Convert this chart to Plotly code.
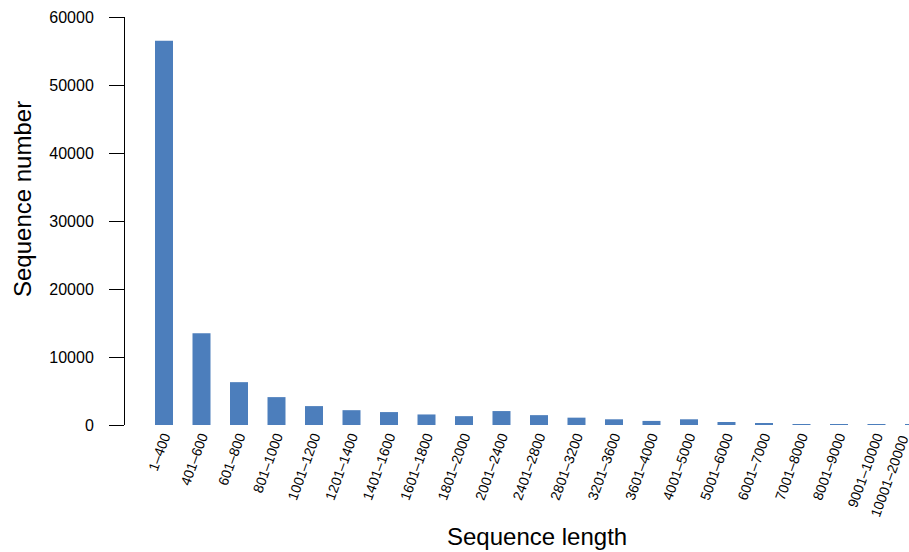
import plotly.graph_objects as go

# Sequence length bins and the number of sequences in each
length_bins = [
    "1–400", "401–600", "601–800", "801–1000", "1001–1200", "1201–1400",
    "1401–1600", "1601–1800", "1801–2000", "2001–2400", "2401–2800",
    "2801–3200", "3201–3600", "3601–4000", "4001–5000", "5001–6000",
    "6001–7000", "7001–8000", "8001–9000", "9001–10000", "10001–20000",
]
seq_counts = [
    56500, 13500, 6300, 4100, 2780, 2180, 1900, 1550, 1300, 2050, 1450,
    1080, 840, 600, 840, 440, 250, 90, 70, 60, 50,
]
y_ticks = [0, 10000, 20000, 30000, 40000, 50000, 60000]

W, H = 909, 552
M_L, M_R, M_T, M_B = 125, 0, 17, 127
PLOT_W = W - M_L - M_R
PLOT_H = H - M_T - M_B

# category index range shown on the x axis (last bin runs off the right edge)
X_RANGE = [-1.04, 19.867]

FONT = "Liberation Sans, Arial, Helvetica, sans-serif"
BAR_COLOR = "#4C7EBC"
TICK_ANGLE = -70


def px_to_paper_x(px):
    return (px - M_L) / PLOT_W


def px_to_paper_y(py):
    return (H - M_B - py) / PLOT_H


def cat_to_paper_x(i):
    return (i - X_RANGE[0]) / (X_RANGE[1] - X_RANGE[0])


idx = list(range(len(length_bins)))

fig = go.Figure(
    go.Bar(
        x=idx,
        y=seq_counts,
        marker=dict(color=BAR_COLOR, line=dict(width=0)),
        width=0.48,
    )
)

visible = [i for i in idx if X_RANGE[0] <= i <= X_RANGE[1]]

fig.update_xaxes(
    range=X_RANGE,
    tickmode="array",
    tickvals=visible,
    ticktext=[length_bins[i] for i in visible],
    tickangle=TICK_ANGLE,
    tickfont=dict(family=FONT, size=14, color="black"),
    ticks="",
    showline=False,
    showgrid=False,
    zeroline=False,
)

fig.update_yaxes(
    range=[0, 60000],
    tickmode="array",
    tickvals=y_ticks,
    ticktext=[str(v) for v in y_ticks],
    ticks="outside",
    ticklen=15,
    tickwidth=1,
    tickcolor="black",
    ticklabelstandoff=12,
    tickfont=dict(family=FONT, size=16, color="black"),
    showline=True,
    linecolor="black",
    linewidth=1,
    showgrid=False,
    zeroline=False,
)

annotations = [
    # x axis title
    dict(
        text="Sequence length", xref="paper", yref="paper",
        x=px_to_paper_x(537), y=px_to_paper_y(536),
        xanchor="center", yanchor="middle", showarrow=False,
        font=dict(family=FONT, size=24, color="black"),
    ),
    # y axis title
    dict(
        text="Sequence number", xref="paper", yref="paper",
        x=px_to_paper_x(22), y=px_to_paper_y(199),
        xanchor="center", yanchor="middle", textangle=-90, showarrow=False,
        font=dict(family=FONT, size=24, color="black"),
    ),
]

# labels for bins whose centre falls past the right edge of the axis
for i in idx:
    if i not in visible:
        annotations.append(
            dict(
                text=length_bins[i], xref="paper", yref="paper",
                x=cat_to_paper_x(i), y=px_to_paper_y(430),
                xanchor="right", yanchor="top", textangle=TICK_ANGLE,
                showarrow=False,
                font=dict(family=FONT, size=14, color="black"),
            )
        )

fig.update_layout(
    width=W,
    height=H,
    margin=dict(l=M_L, r=M_R, t=M_T, b=M_B, pad=0),
    paper_bgcolor="white",
    plot_bgcolor="white",
    showlegend=False,
    annotations=annotations,
)

fig.write_html("out.html")
